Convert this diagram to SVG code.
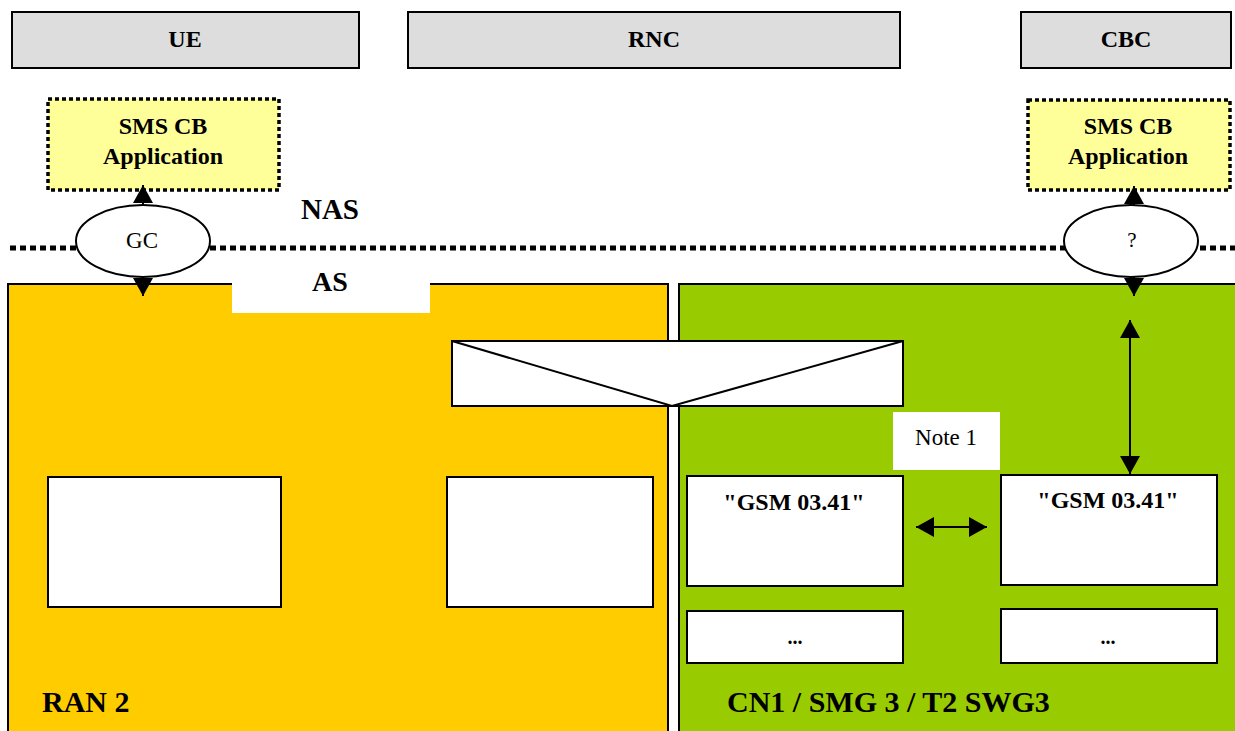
<svg xmlns="http://www.w3.org/2000/svg" width="1235" height="731" viewBox="0 0 1235 731">
<defs>
<style>
text{font-family:"Liberation Serif","Times New Roman",serif;fill:#000;text-anchor:middle}
.b{font-weight:bold}
.hdr{fill:#DDDDDD;stroke:#000;stroke-width:2}
.app{fill:#FFFF99;stroke:#000;stroke-width:3.5;stroke-dasharray:4 3}
.wbox{fill:#fff;stroke:#000;stroke-width:2}
.ell{fill:#fff;stroke:#000;stroke-width:2}
.conn{stroke:#000;stroke-width:2;fill:none}
</style>
<marker id="ah" markerUnits="userSpaceOnUse" markerWidth="18" markerHeight="20" refX="18" refY="10" orient="auto-start-reverse" viewBox="0 0 18 20">
<path d="M0,0 L18,10 L0,20 z" fill="#000"/>
</marker>
</defs>
<rect width="1235" height="731" fill="#fff"/>

<g id="ue"><rect class="hdr" x="12" y="12" width="347" height="56"/><text class="b" x="185" y="47" font-size="24">UE</text></g>
<g id="rnc"><rect class="hdr" x="408" y="12" width="492" height="56"/><text class="b" x="654" y="47" font-size="24">RNC</text></g>
<g id="cbc"><rect class="hdr" x="1021" y="12" width="210" height="56"/><text class="b" x="1126" y="47" font-size="24">CBC</text></g>

<g id="ran2">
<rect x="8" y="284" width="660" height="460" fill="#FFCC00" stroke="#000" stroke-width="2"/>
<rect x="232" y="283" width="198" height="30" fill="#fff"/>
<text class="b" x="42" y="712" font-size="30" style="text-anchor:start">RAN 2</text>
</g>
<g id="cn1">
<rect x="679" y="284" width="570" height="460" fill="#99CC00" stroke="#000" stroke-width="2"/>
<text class="b" x="727" y="712" font-size="30" style="text-anchor:start">CN1 / SMG 3 / T2 SWG3</text>
</g>

<line x1="10" y1="248" x2="1235" y2="248" stroke="#000" stroke-width="5" stroke-dasharray="6 4"/>
<text class="b" x="330" y="219" font-size="29">NAS</text>
<text class="b" x="330" y="291" font-size="28">AS</text>

<g id="app-ue"><rect class="app" x="48" y="99" width="231" height="91"/><text class="b" x="163" y="134" font-size="24">SMS CB</text><text class="b" x="163" y="164" font-size="24">Application</text></g>
<g id="app-cbc"><rect class="app" x="1028" y="100" width="202" height="90"/><text class="b" x="1128" y="134" font-size="24">SMS CB</text><text class="b" x="1128" y="164" font-size="24">Application</text></g>

<g id="gc"><ellipse class="ell" cx="143" cy="241" rx="67" ry="36"/><text x="142" y="248" font-size="23">GC</text></g>
<g id="q"><ellipse class="ell" cx="1131" cy="241" rx="67" ry="36"/><text x="1132" y="247" font-size="21">?</text></g>

<g id="envelope">
<rect class="wbox" x="452" y="341" width="451" height="65"/>
<path class="conn" d="M452,341 L672,406 L903,341"/>
</g>

<g id="note1"><rect x="893" y="412" width="107" height="58" fill="#fff"/><text x="946" y="445" font-size="23">Note 1</text></g>

<g id="ran-box1"><rect class="wbox" x="48" y="477" width="233" height="130"/></g>
<g id="ran-box2"><rect class="wbox" x="447" y="477" width="206" height="130"/></g>

<g id="gsm-left"><rect class="wbox" x="687" y="476" width="216" height="110"/><text class="b" x="794" y="510" font-size="24">"GSM 03.41"</text></g>
<g id="gsm-right"><rect class="wbox" x="1001" y="475" width="216" height="110"/><text class="b" x="1108" y="508" font-size="24">"GSM 03.41"</text></g>
<g id="dots-left"><rect class="wbox" x="687" y="611" width="216" height="52"/><text class="b" x="795" y="644" font-size="20">...</text></g>
<g id="dots-right"><rect class="wbox" x="1001" y="609" width="216" height="54"/><text class="b" x="1108" y="644" font-size="20">...</text></g>

<g id="connectors">
<line class="conn" x1="143" y1="205" x2="143" y2="185" marker-end="url(#ah)"/>
<line class="conn" x1="143" y1="277" x2="143" y2="296" marker-end="url(#ah)"/>
<line class="conn" x1="1134" y1="205" x2="1134" y2="186" marker-end="url(#ah)"/>
<line class="conn" x1="1134" y1="277" x2="1134" y2="296" marker-end="url(#ah)"/>
<line class="conn" x1="1130" y1="320" x2="1130" y2="474" marker-start="url(#ah)" marker-end="url(#ah)"/>
<line class="conn" x1="916" y1="527" x2="987" y2="527" marker-start="url(#ah)" marker-end="url(#ah)"/>
</g>
</svg>
